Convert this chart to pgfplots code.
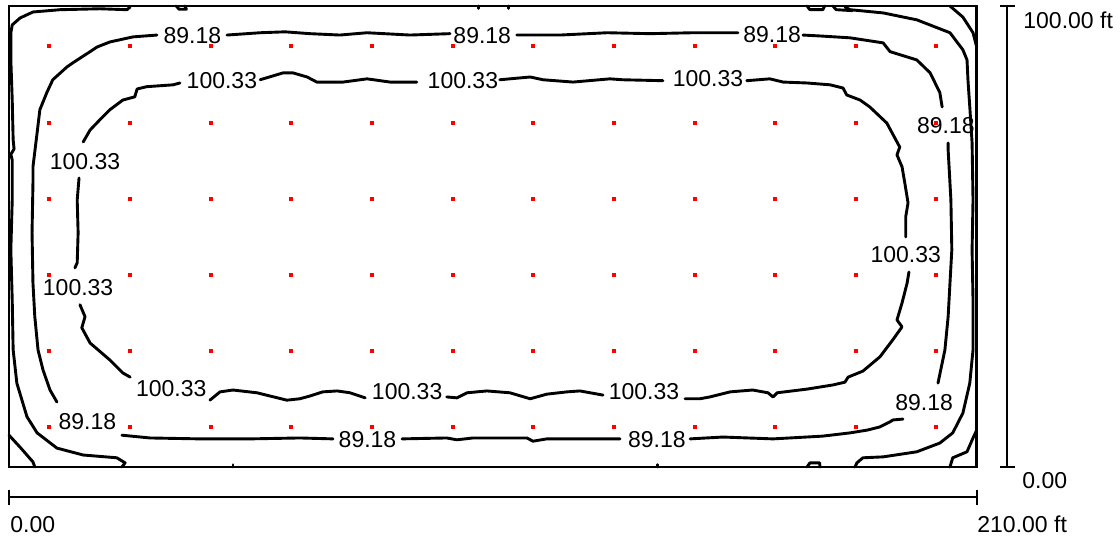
\documentclass[border=0pt]{standalone}
\usepackage{pgfplots}
\pgfplotsset{compat=1.18}
\usepackage{fontspec}
\setmainfont{Liberation Sans}
\begin{document}
\begin{tikzpicture}[x=1pt,y=1pt,
  lbl/.style={font=\fontsize{11.5}{13}\selectfont, inner sep=0pt, anchor=center},
  ctr/.style={black, line width=1.45pt, line join=round, line cap=round}]
\path[use as bounding box] (-4.5,-35.5) rectangle (555.5,233.5);
\begin{axis}[
  at={(0,0)}, anchor=south west,
  scale only axis, width=483.85pt, height=230.5pt,
  xmin=0,xmax=210,ymin=0,ymax=100,
  xtick=\empty, ytick=\empty,
  axis line style={line width=1.3pt},
  clip=false,
]
% ---------- 100.33 contour ----------
\addplot[ctr] coordinates {(37.1,83.3)(35.6,82.9)(29.9,82.5)(27.8,82.0)(27.3,80.3)(24.7,79.6)(21.9,77.5)(19.7,75.3)(17.6,73.1)(16.1,70.5)};
\addplot[ctr] coordinates {(15.2,62.7)(14.8,57.9)(15.0,50.8)(14.8,44.3)(14.3,43.2)};
\addplot[ctr] coordinates {(15.4,35.2)(16.5,32.6)(15.8,30.2)(17.6,26.9)(21.9,23.2)(24.7,20.4)(26.3,19.5)};
\addplot[ctr] coordinates {(43.6,14.5)(45.8,16.3)(48.6,16.7)(53.8,16.1)(60.3,14.5)(63.1,14.8)(65.3,15.4)(68.1,16.3)(71.2,16.5)(74.0,16.1)(77.3,15.0)};
\addplot[ctr] coordinates {(95.0,15.2)(97.2,15.0)(99.4,16.1)(103.7,16.5)(108.7,16.1)(113.1,14.8)(116.7,15.8)(121.1,16.3)(123.9,16.5)(128.9,15.6)};
\addplot[ctr] coordinates {(146.7,14.8)(149.9,14.8)(152.1,15.2)(156.5,16.3)(161.4,16.7)(164.7,16.1)(165.8,15.2)(166.7,16.1)(173.2,16.9)(178.8,17.8)(181.4,18.4)(182.1,19.5)(185.3,20.8)(189.0,23.9)(191.8,27.6)(193.8,30.4)(192.7,31.9)(193.8,35.6)(194.9,39.9)(195.3,42.3)};
\addplot[ctr] coordinates {(194.6,49.9)(194.6,54.3)(195.1,57.3)(194.4,61.6)(193.8,65.1)(192.7,67.7)(193.3,69.4)(190.5,74.6)(186.8,78.1)(184.7,79.6)(181.8,80.7)(181.0,82.2)(178.2,82.9)(173.2,83.3)(168.0,83.5)(165.1,84.2)(160.1,83.8)};
\addplot[ctr] coordinates {(106.5,84.0)(113.1,84.6)(115.9,84.0)(122.4,83.5)(130.4,84.2)(133.2,84.0)(141.9,83.8)};
\addplot[ctr] coordinates {(54.5,84.0)(59.5,85.5)(61.6,85.5)(64.7,84.6)(66.8,83.5)(72.5,83.5)(77.7,84.2)(82.7,83.5)(88.5,83.5)};
% ---------- 89.18 contour ----------
\addplot[ctr] coordinates {(32.1,93.7)(26.9,93.3)(21.9,92.2)(19.1,91.1)(17.6,90.1)(13.9,87.7)(12.6,86.8)(9.5,84.0)(8.2,81.2)(6.7,77.5)(6.1,72.5)(5.2,65.1)(5.2,61.6)(5.0,50.8)(5.2,39.9)(5.6,32.6)(6.3,25.4)(7.4,21.0)(8.9,16.7)(10.4,14.1)};
\addplot[ctr] coordinates {(24.5,6.9)(30.6,6.3)(41.4,6.1)(52.3,6.1)(63.1,6.3)(70.3,6.1)};
\addplot[ctr] coordinates {(85.3,6.1)(95.0,6.3)(97.2,5.9)(100.7,6.3)(112.4,6.3)(113.7,5.6)(116.7,6.1)(132.6,6.1)};
\addplot[ctr] coordinates {(147.8,6.1)(154.9,6.5)(165.8,6.1)(176.6,6.7)(182.5,7.4)(186.2,8.0)(189.0,8.7)(191.2,9.8)(191.8,10.2)(194.0,10.4)};
\addplot[ctr] coordinates {(201.6,18.2)(203.1,25.4)(203.8,32.6)(204.2,39.9)(204.6,47.1)(204.4,57.9)(204.2,61.6)(203.8,68.8)(203.8,70.3)};
\addplot[ctr] coordinates {(202.5,78.1)(202.0,81.2)(199.9,85.5)(197.0,88.3)(191.2,90.1)(189.7,92.0)(182.5,93.1)(176.0,93.5)(172.3,93.7)};
\addplot[ctr] coordinates {(110.2,93.7)(119.6,93.7)(129.8,94.2)(139.1,94.0)(148.4,94.2)(158.2,94.2)};
\addplot[ctr] coordinates {(47.3,93.7)(54.5,94.2)(59.9,94.4)(65.3,94.0)(71.8,93.7)(77.7,94.2)(87.0,93.7)(95.7,94.0)};
% ---------- wall contours ----------
\addplot[ctr] coordinates {(26.3,99.8)(25.6,99.2)(19.7,99.4)(11.1,99.2)(5.2,98.7)(2.4,97.4)(0.7,95.9)(0.4,94.2)(0.4,88.3)(0.7,79.6)(0.9,71.0)(1.1,69.0)(0.4,67.8)(0.7,66.6)(0.7,57.9)(0.4,47.1)(0.7,36.2)(0.9,25.4)(1.7,18.2)(3.9,10.9)(6.1,7.4)(10.4,4.1)(16.1,2.6)(23.4,2.0)(25.2,0.9)(24.5,0)};
\addplot[ctr] coordinates {(181.4,99.8)(182.5,99.2)(189.7,98.5)(197.0,97.0)(204.2,94.2)(207.0,90.5)(207.9,88.3)(208.1,84.0)(208.5,78.1)(209.0,70.3)(209.2,57.9)(209.0,47.1)(209.2,36.2)(209.2,25.4)(208.5,18.2)(207.0,11.7)(204.8,7.4)(202.0,5.2)(197.0,3.3)(189.7,2.2)(185.3,2.0)(184.0,0.9)(183.6,0)};
\addplot[ctr] coordinates {(0,6.9)(2.4,4.3)(5.2,1.1)(5.6,0)};
\addplot[ctr] coordinates {(204.2,0)(204.8,2.0)(207.9,3.3)(209.2,6.3)(210,8.0)};
\addplot[ctr] coordinates {(204.2,100)(207.0,97.6)(209.2,94.2)(210,91.1)};
\addplot[ctr] coordinates {(36.3,100)(36.9,99.3)(38.5,99.3)(38.2,100)};
\addplot[ctr] coordinates {(173.2,100)(173.8,99.2)(176.6,99.2)(177.0,100)};
\addplot[ctr] coordinates {(178.8,100)(179.5,99.2)(183.0,99.0)};
\addplot[ctr] coordinates {(173.2,0)(173.8,0.9)(175.9,0.9)(176.0,0)};
\addplot[ctr] coordinates {(48.6,0)(48.6,0.5)};
\addplot[ctr] coordinates {(140.8,0)(140.8,0.5)};
\addplot[ctr] coordinates {(101.8,100)(101.8,99.5)};
\addplot[ctr] coordinates {(108.3,100)(108.3,99.5)};
% ---------- labels ----------
\node[lbl] at (axis cs:46.2,83.8) {100.33};
\node[lbl] at (axis cs:98.5,83.8) {100.33};
\node[lbl] at (axis cs:151.7,84.3) {100.33};
\node[lbl] at (axis cs:16.5,66.3) {100.33};
\node[lbl] at (axis cs:15.0,39.0) {100.33};
\node[lbl] at (axis cs:194.6,46.0) {100.33};
\node[lbl] at (axis cs:35.2,17.0) {100.33};
\node[lbl] at (axis cs:86.4,16.4) {100.33};
\node[lbl] at (axis cs:137.8,16.4) {100.33};
\node[lbl] at (axis cs:39.8,93.6) {89.18};
\node[lbl] at (axis cs:102.7,93.6) {89.18};
\node[lbl] at (axis cs:165.6,93.7) {89.18};
\node[lbl] at (axis cs:203.3,74.0) {89.18};
\node[lbl] at (axis cs:198.6,14.0) {89.18};
\node[lbl] at (axis cs:77.8,5.9) {89.18};
\node[lbl] at (axis cs:140.6,5.9) {89.18};
\node[lbl] at (axis cs:17.0,9.9) {89.18};
% ---------- calculation points ----------
\addplot[only marks, mark=square*, mark size=0.75pt, red, mark options={draw=none, fill=red}] coordinates {
(8.75,8.75)(26.25,8.75)(43.75,8.75)(61.25,8.75)(78.75,8.75)(96.25,8.75)(113.75,8.75)(131.25,8.75)(148.75,8.75)(166.25,8.75)(183.75,8.75)(201.25,8.75)
(8.75,25.25)(26.25,25.25)(43.75,25.25)(61.25,25.25)(78.75,25.25)(96.25,25.25)(113.75,25.25)(131.25,25.25)(148.75,25.25)(166.25,25.25)(183.75,25.25)(201.25,25.25)
(8.75,41.75)(26.25,41.75)(43.75,41.75)(61.25,41.75)(78.75,41.75)(96.25,41.75)(113.75,41.75)(131.25,41.75)(148.75,41.75)(166.25,41.75)(183.75,41.75)(201.25,41.75)
(8.75,58.25)(26.25,58.25)(43.75,58.25)(61.25,58.25)(78.75,58.25)(96.25,58.25)(113.75,58.25)(131.25,58.25)(148.75,58.25)(166.25,58.25)(183.75,58.25)(201.25,58.25)
(8.75,74.75)(26.25,74.75)(43.75,74.75)(61.25,74.75)(78.75,74.75)(96.25,74.75)(113.75,74.75)(131.25,74.75)(148.75,74.75)(166.25,74.75)(183.75,74.75)(201.25,74.75)
(8.75,91.25)(26.25,91.25)(43.75,91.25)(61.25,91.25)(78.75,91.25)(96.25,91.25)(113.75,91.25)(131.25,91.25)(148.75,91.25)(166.25,91.25)(183.75,91.25)(201.25,91.25)
};
\end{axis}
% ---------- scale bars ----------
\draw[line width=1.1pt] (499,0) -- (499,230.5);
\draw[line width=1.1pt] (495.5,230.5) -- (503,230.5);
\draw[line width=1.1pt] (495.5,0) -- (503,0);
\node[font=\fontsize{11.5}{13}\selectfont, inner sep=0pt, anchor=base west] at (507,219.5) {100.00 ft};
\node[font=\fontsize{11.5}{13}\selectfont, inner sep=0pt, anchor=base west] at (506.5,-10.5) {0.00};
\draw[line width=1.1pt] (0,-15) -- (483.85,-15);
\draw[line width=1.1pt] (0,-11.5) -- (0,-19);
\draw[line width=1.1pt] (483.85,-11.5) -- (483.85,-19);
\node[font=\fontsize{11.5}{13}\selectfont, inner sep=0pt, anchor=base west] at (0.5,-32.5) {0.00};
\node[font=\fontsize{11.5}{13}\selectfont, inner sep=0pt, anchor=base west] at (484,-32.5) {210.00 ft};
\end{tikzpicture}
\end{document}
